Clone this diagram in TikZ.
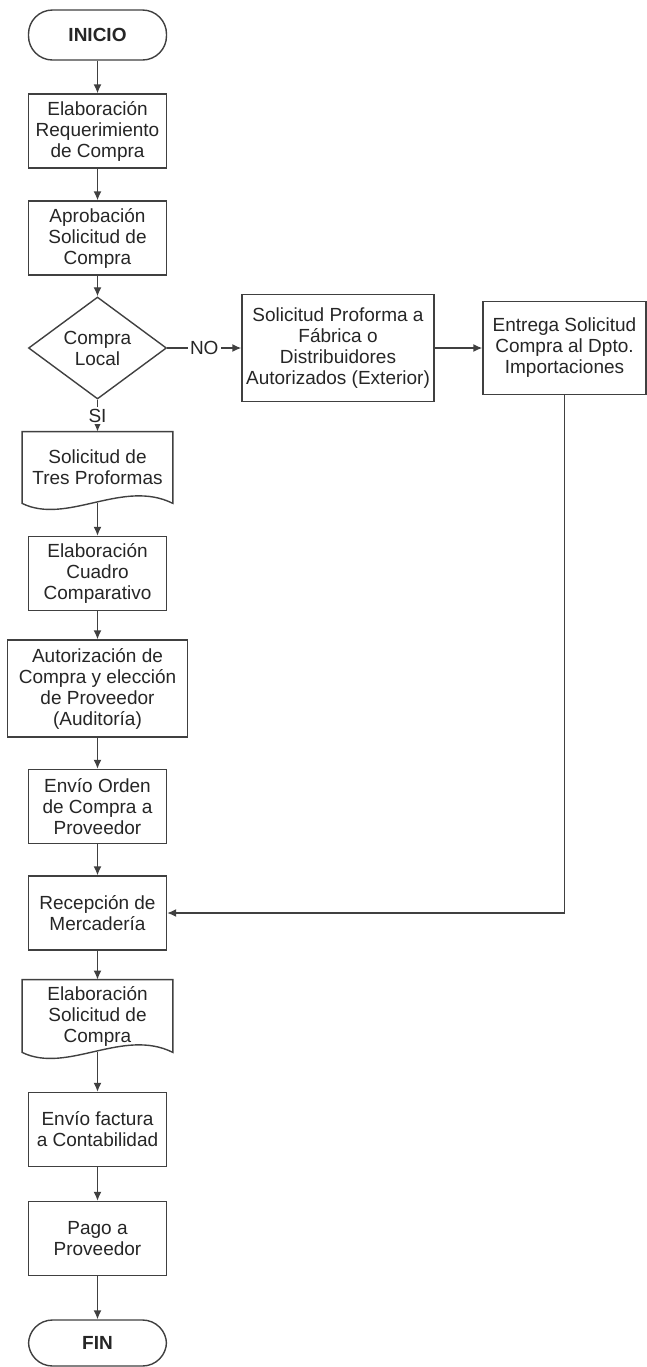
\documentclass[tikz,border=0pt]{standalone}
\usepackage{fontspec}
\setmainfont{Liberation Sans}
\usetikzlibrary{shapes.geometric, arrows.meta}

\begin{document}
\begin{tikzpicture}[x=0.5pt, y=-0.5pt, >={Latex[length=4.5pt, width=4pt]},
										every node/.style={font=\fontsize{9.5}{10.5}\selectfont, text=black!85, align=center},
										line/.style={draw=black!75, line width=0.7pt},
										proc/.style={line, rectangle, fill=white, minimum width=69pt, minimum height=37pt, inner sep=1pt},
										term/.style={proc, rounded corners=12pt, minimum height=25pt, font=\fontsize{9.5}{10.5}\selectfont\bfseries},
										decision/.style={line, diamond, minimum width=69pt, minimum height=37.5pt, inner sep=0pt},
										docbox/.style={rectangle, minimum width=75pt, inner sep=1pt},
										flow/.style={line, ->},
										tag/.style={fill=white, inner sep=1pt}]
	\useasboundingbox (0,0) rectangle (647,1367);
	\node [term] (inicio) at (97.5,35) {INICIO};
	\node [proc] (req) at (97.5,131) {Elaboración\\Requerimiento\\de Compra};
	\node [proc] (apr) at (97.5,238) {Aprobación\\Solicitud de\\Compra};
	\node [decision] (local) at (97.5,348) {Compra\\Local};
	\node [proc, minimum width=96pt, minimum height=53.5pt] (prof) at (338,348) {Solicitud Proforma a\\Fábrica o\\Distribuidores\\Autorizados (Exterior)};
	\node [proc, minimum width=81.5pt, minimum height=46.5pt] (entrega) at (564.5,348) {Entrega Solicitud\\Compra al Dpto.\\Importaciones};
	\node [docbox, minimum height=35.5pt] (tres) at (97.5,467.5) {Solicitud de\\Tres Proformas};
	\node [proc] (cuadro) at (97.5,573.5) {Elaboración\\Cuadro\\Comparativo};
	\node [proc, minimum width=90pt, minimum height=48.5pt] (aud) at (97.5,688.5) {Autorización de\\Compra y elección\\de Proveedor\\(Auditoría)};
	\node [proc] (orden) at (97.5,806.5) {Envío Orden\\de Compra a\\Proveedor};
	\node [proc] (recep) at (97.5,913) {Recepción de\\Mercadería};
	\node [docbox, minimum height=36pt] (solic) at (97.5,1016) {Elaboración\\Solicitud de\\Compra};
	\node [proc] (fact) at (97.5,1129.5) {Envío factura\\a Contabilidad};
	\node [proc] (pago) at (97.5,1238.5) {Pago a\\Proveedor};
	\node [term, minimum height=23pt] (fin) at (97.5,1343) {FIN};

	\draw [line] (tres.north west) -- (tres.north east) -- (tres.south east)
		.. controls +(-50,-25) and +(45,22) .. (tres.south west) -- cycle;
	\draw [line] (solic.north west) -- (solic.north east) -- (solic.south east)
		.. controls +(-50,-25) and +(45,22) .. (solic.south west) -- cycle;

	\draw [flow] (inicio) -- (req);
	\draw [flow] (req) -- (apr);
	\draw [flow] (apr) -- (local);
	\draw [flow] (local) -- node [tag] {SI} (tres);
	\draw [flow] (local) -- node [tag] {NO} (prof);
	\draw [flow] (prof) -- (entrega);
	\draw [flow] (entrega) |- (recep);
	\draw [flow] (tres) -- (cuadro);
	\draw [flow] (cuadro) -- (aud);
	\draw [flow] (aud) -- (orden);
	\draw [flow] (orden) -- (recep);
	\draw [flow] (recep) -- (solic);
	\draw [flow] (solic) -- (fact);
	\draw [flow] (fact) -- (pago);
	\draw [flow] (pago) -- (fin);
\end{tikzpicture}
\end{document}
